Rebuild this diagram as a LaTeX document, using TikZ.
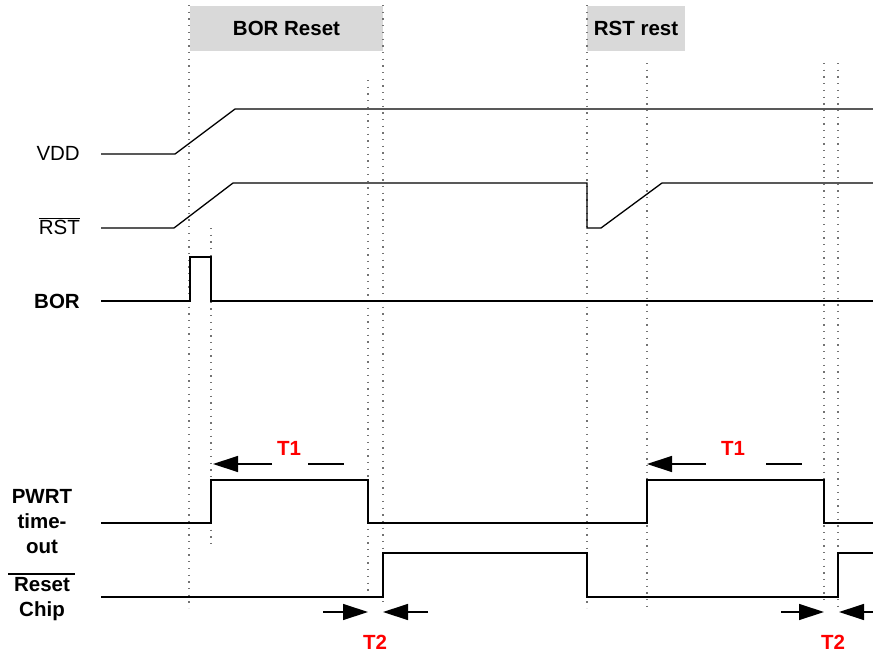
\documentclass[tikz,border=0pt]{standalone}
\usepackage{fontspec}
\setmainfont{Liberation Sans}
\usetikzlibrary{arrows.meta}

\tikzset{
  signal/.style={line width=1.3pt},
  marker/.style={black!55, line width=1.3pt, dash pattern=on 1.3pt off 5.4pt},
  phase/.style={fill=black!15, inner sep=0pt, font=\fontsize{20.5}{25}\selectfont\bfseries},
  sig label/.style={inner sep=0pt, anchor=base east},
  timing/.style={red, inner sep=0pt, font=\fontsize{20.5}{25}\selectfont\bfseries},
  span/.style={line width=1.3pt, -{Triangle[length=25pt,width=16pt]}},
}

\begin{document}
\begin{tikzpicture}[x=1pt,y=-1pt,font=\fontsize{20.5}{25}\selectfont]
  \useasboundingbox (0,0) rectangle (873,653);

  % phases
  \node (borreset) [phase, minimum width=193pt, minimum height=45pt] at (286.5,28.5) {BOR Reset};
  \node (rstrest)  [phase, minimum width=98pt,  minimum height=45pt] at (636,28.5)   {RST rest};

  % time markers
  \foreach \x/\a/\b in {189/5/608, 211/228/548, 368/80/602, 383/5/602,
                        587/5/608, 647/63/610, 824/63/604, 838/63/608}
    \draw [marker] (\x,\a) -- (\x,\b);

  % signal names
  \node (vdd) [sig label] at (80,160) {VDD};
  \node (rst) [sig label] at (80,234) {$\overline{\mbox{RST}}$};
  \node (bor) [sig label] at (80,308) {\bfseries BOR};
  \node (pwrt) [inner sep=0pt, align=center] at (42,522) {\bfseries PWRT\\\bfseries time-\\\bfseries out};
  \node (chip) [inner sep=0pt, align=center] at (42,599) {\bfseries Reset\\\bfseries Chip};
  \draw [line width=1.2pt] (8,574) -- (75,574);

  % waveforms
  \draw [signal] (101,154) -- (175,154) -- (235,109) -- (873,109);
  \draw [signal] (101,228) -- (174,228) -- (233,183) -- (587,183) -- (587,228)
                 -- (601,228) -- (662,183) -- (873,183);
  \draw [signal] (101,301) -- (190,301) -- (190,257) -- (211,257) -- (211,301) -- (873,301);
  \draw [signal] (101,523) -- (211,523) -- (211,480) -- (368,480) -- (368,523)
                 -- (647,523) -- (647,480) -- (824,480) -- (824,523) -- (873,523);
  \draw [signal] (101,597) -- (383,597) -- (383,553) -- (587,553) -- (587,597)
                 -- (838,597) -- (838,553) -- (873,553);

  % T1
  \node (t1a) [timing] at (289,448) {T1};
  \node (t1b) [timing] at (733,448) {T1};
  \draw [span]   (272,464) -- (213,464);
  \draw [signal] (308,464) -- (344,464);
  \draw [span]   (706,464) -- (647,464);
  \draw [signal] (766,464) -- (802,464);

  % T2
  \node (t2a) [timing] at (375,642) {T2};
  \node (t2b) [timing] at (833,642) {T2};
  \draw [span] (323,612) -- (368,612);
  \draw [span] (428,612) -- (383,612);
  \draw [span] (781,612) -- (824,612);
  \draw [span] (873,612) -- (839,612);
\end{tikzpicture}
\end{document}
